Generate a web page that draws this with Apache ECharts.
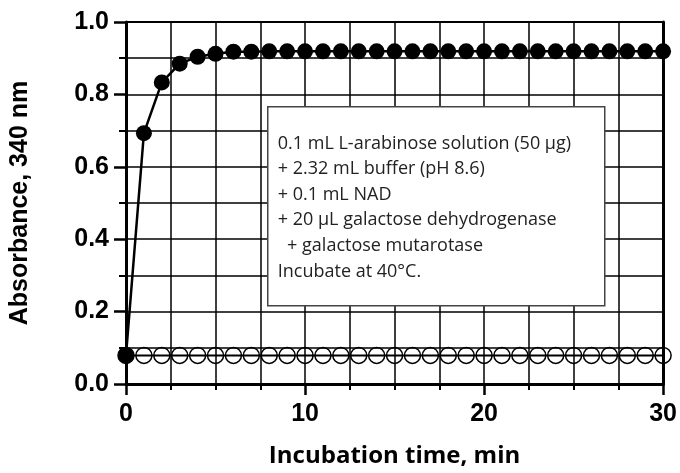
<!DOCTYPE html>
<html>
<head>
<meta charset="utf-8">
<script src="https://cdn.jsdelivr.net/npm/echarts@6/dist/echarts.min.js"></script>
<style>html,body{margin:0;padding:0;background:#fff}#c{width:680px;height:473px}</style>
</head>
<body>
<div id="c"></div>
<script>
// Data
const timeMin = [0,1,2,3,4,5,6,7,8,9,10,11,12,13,14,15,16,17,18,19,20,21,22,23,24,25,26,27,28,29,30];
const withEnzyme = [0.079,0.693,0.833,0.885,0.904,0.912,0.918,0.918,0.919,0.919,0.919,0.919,0.919,0.919,0.919,0.919,0.919,0.919,0.919,0.919,0.919,0.919,0.919,0.919,0.919,0.919,0.919,0.919,0.919,0.919,0.919];
const blank = [0.079,0.079,0.079,0.079,0.079,0.079,0.079,0.079,0.079,0.079,0.079,0.079,0.079,0.079,0.079,0.079,0.079,0.079,0.079,0.079,0.079,0.079,0.079,0.079,0.079,0.079,0.079,0.079,0.079,0.079,0.079];
const annotationLines = [
  '0.1 mL L-arabinose solution (50 µg)',
  '+ 2.32 mL buffer (pH 8.6)',
  '+ 0.1 mL NAD',
  '+ 20 µL galactose dehydrogenase',
  '  + galactose mutarotase',
  'Incubate at 40°C.'
];
const xTitle = 'Incubation time, min';
const yTitle = 'Absorbance, 340 nm';

const chart = echarts.init(document.getElementById('c'), null, {renderer:'canvas'});
const pair = (xs, ys) => xs.map((x,i)=>[x, ys[i]]);
chart.setOption({
  animation:false,
  backgroundColor:'#fff',
  grid:{left:124,right:14,top:22,bottom:85,show:true,borderColor:'#000',borderWidth:2,backgroundColor:'transparent'},
  xAxis:{
    type:'value',min:0,max:30,interval:10,
    name:xTitle,nameLocation:'middle',nameGap:60,
    nameTextStyle:{fontFamily:'Open Sans',fontWeight:'bold',fontSize:24,color:'#000'},
    axisLine:{show:true,lineStyle:{color:'#000',width:3}},
    axisTick:{show:true,inside:false,length:11,lineStyle:{color:'#000',width:2.5}},
    minorTick:{show:true,splitNumber:4,length:6,lineStyle:{color:'#000',width:2}},
    splitLine:{show:true,lineStyle:{color:'#000',width:1.5}},
    minorSplitLine:{show:true,lineStyle:{color:'#000',width:1.5}},
    axisLabel:{margin:18,fontFamily:'Liberation Sans',fontWeight:'bold',fontSize:25,color:'#000'}
  },
  yAxis:[{
    type:'value',min:0,max:1,interval:0.2,
    name:yTitle,nameLocation:'middle',nameGap:93,
    nameTextStyle:{fontFamily:'Liberation Sans',fontWeight:'bold',fontSize:25,color:'#000'},
    axisLine:{show:true,lineStyle:{color:'#000',width:3}},
    axisTick:{show:true,inside:false,length:12,lineStyle:{color:'#000',width:2.5}},
    minorTick:{show:true,splitNumber:2,length:7,lineStyle:{color:'#000',width:2}},
    splitLine:{show:true,lineStyle:{color:'#000',width:1.5}},
    minorSplitLine:{show:true,lineStyle:{color:'#000',width:1.5}},
    axisLabel:{margin:17,fontFamily:'Liberation Sans',fontWeight:'bold',fontSize:25,color:'#000',formatter:v=>v.toFixed(1)}
  },{
    type:'value',min:0,max:1,interval:0.2,position:'right',
    axisLine:{show:true,lineStyle:{color:'#000',width:3}},
    axisTick:{show:false},axisLabel:{show:false},splitLine:{show:false}
  }],
  graphic:[{
    type:'group',left:267,top:106,zlevel:1,z:100,
    children:[
      {type:'rect',zlevel:1,z:100,shape:{x:0,y:0,width:337,height:199},style:{fill:'#fff',stroke:'#444',lineWidth:1.5}},
      {type:'text',zlevel:1,z:101,x:10,y:24,style:{text:annotationLines.join('\n'),fontFamily:'Open Sans',fontSize:18,lineHeight:25.6,fill:'#222'}}
    ]
  }],
  series:[
    {type:'line',yAxisIndex:0,data:pair(timeMin,blank),symbol:'circle',symbolSize:16,z:3,
     lineStyle:{color:'#000',width:2},itemStyle:{color:'rgba(0,0,0,0)',borderColor:'#000',borderWidth:1.5}},
    {type:'line',yAxisIndex:0,data:pair(timeMin,withEnzyme),symbol:'circle',symbolSize:16,z:4,
     lineStyle:{color:'#000',width:2.5},itemStyle:{color:'#000',borderColor:'#000',borderWidth:0}}
  ]
});
</script>
</body>
</html>
